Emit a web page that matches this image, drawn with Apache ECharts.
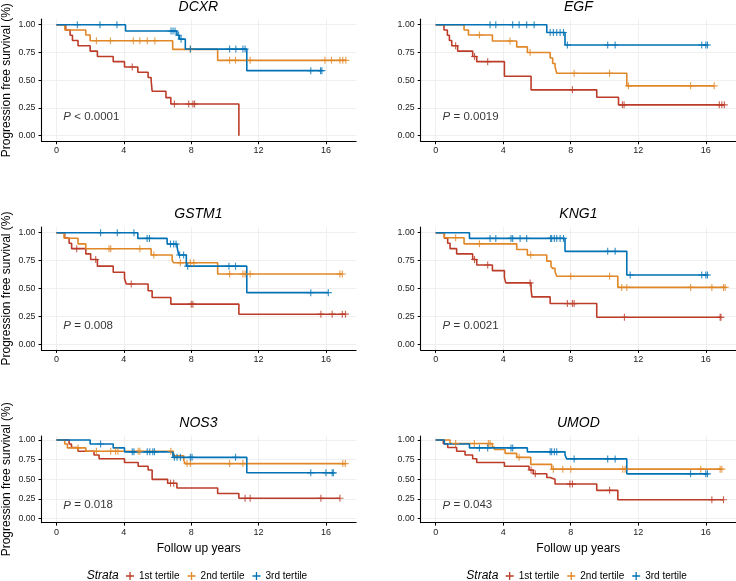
<!DOCTYPE html>
<html>
<head>
<meta charset="utf-8">
<script src="https://cdn.jsdelivr.net/npm/echarts@6/dist/echarts.min.js"></script>
<style>html,body{margin:0;padding:0;background:#fff;}#c{width:736px;height:581px;}</style>
</head>
<body>
<div id="c"></div>
<script>
// ---------------- DATA ----------------
const genes = ['DCXR', 'EGF', 'GSTM1', 'KNG1', 'NOS3', 'UMOD'];
const pTexts = ['< 0.0001', '= 0.0019', '= 0.008', '= 0.0021', '= 0.018', '= 0.043'];
const strata = ['1st tertile', '2nd tertile', '3rd tertile'];
const strataColors = ['#BC3C29', '#E18727', '#0072B5'];
const xTicks = [0, 4, 8, 12, 16];
const yTicks = [0, 0.25, 0.5, 0.75, 1];

// steps: [time, survival after event]; censor: censoring times
const dcxr_1st = [[0,1],[0.55,0.952],[0.81,0.905],[0.95,0.857],[1.28,0.81],[2.0,0.762],[2.43,0.714],[3.37,0.667],[4.04,0.619],[4.83,0.571],[5.44,0.524],[5.62,0.50],[5.68,0.40],[6.5,0.343],[6.79,0.286],[10.83,0]];
const dcxr_1st_cens = [4.5, 7.0, 7.85, 8.1, 8.2];
const dcxr_2nd = [[0,1],[0.5,0.952],[1.74,0.907],[2.0,0.856],[6.9,0.778],[9.57,0.679]];
const dcxr_2nd_cens = [2.37, 3.2, 4.56, 4.95, 5.39, 5.84, 7.95, 10.28, 10.63, 11.5, 15.94, 16.33, 16.83, 17.0, 17.18];
const dcxr_3rd = [[0,1],[4.1,0.943],[7.15,0.905],[7.3,0.87],[7.65,0.78],[11.3,0.586]];
const dcxr_3rd_cens = [1.24, 2.58, 3.59, 6.8, 6.92, 7.04, 7.25, 7.4, 7.95, 10.28, 10.65, 11.07, 11.2, 15.1, 15.68, 15.76];

const egf_1st = [[0,1],[0.49,0.952],[0.69,0.905],[0.81,0.857],[0.95,0.81],[1.3,0.762],[2.19,0.714],[2.43,0.667],[4.07,0.536],[5.65,0.413],[9.54,0.347],[10.83,0.278]];
const egf_1st_cens = [1.18, 2.3, 3.08, 8.1, 11.06, 11.16, 16.8, 16.95, 17.1];
const egf_2nd = [[0,1],[1.68,0.952],[1.94,0.907],[3.36,0.853],[4.8,0.80],[5.43,0.75],[6.78,0.70],[6.93,0.65],[7.07,0.62],[7.17,0.563],[11.32,0.449]];
const egf_2nd_cens = [2.59, 4.4, 5.59, 8.2, 10.3, 11.42, 15.1, 16.5];
const egf_3rd = [[0,1],[6.58,0.93],[7.66,0.817]];
const egf_3rd_cens = [3.22, 3.56, 4.56, 4.94, 5.39, 5.83, 6.78, 6.97, 7.17, 7.37, 7.57, 7.8, 10.19, 10.63, 15.76, 16.0, 16.1];

const gstm1_1st = [[0,1],[0.49,0.952],[0.75,0.905],[0.9,0.857],[1.74,0.81],[2.03,0.76],[2.43,0.70],[3.37,0.645],[4.04,0.59],[4.14,0.54],[5.44,0.48],[5.68,0.42],[6.79,0.36],[10.83,0.27]];
const gstm1_1st_cens = [1.2, 2.33, 4.44, 8.0, 8.1, 15.7, 16.37, 16.97, 17.16];
const gstm1_2nd = [[0,1],[0.45,0.95],[1.28,0.90],[1.74,0.856],[5.62,0.80],[6.87,0.75],[6.96,0.73],[9.57,0.63]];
const gstm1_2nd_cens = [3.12, 3.22, 4.95, 5.78, 7.36, 7.95, 8.15, 10.28, 11.07, 11.2, 11.5, 16.83, 16.97];
const gstm1_3rd = [[0,1],[4.83,0.949],[6.57,0.898],[7.16,0.87],[7.26,0.80],[7.71,0.70],[11.3,0.463]];
const gstm1_3rd_cens = [2.62, 3.61, 4.6, 5.38, 5.52, 6.77, 6.96, 7.1, 7.31, 7.55, 7.79, 10.24, 10.63, 15.1, 16.14];

const kng1_1st = [[0,1],[0.51,0.95],[0.71,0.905],[0.85,0.857],[1.24,0.81],[2.19,0.76],[2.43,0.71],[3.36,0.66],[4.07,0.60],[4.15,0.55],[5.65,0.49],[5.7,0.425],[6.78,0.365],[9.54,0.243]];
const kng1_1st_cens = [2.3, 3.08, 5.59, 7.8, 8.1, 8.2, 11.18, 16.85, 16.9];
const kng1_2nd = [[0,1],[0.51,0.955],[1.68,0.90],[4.8,0.85],[5.43,0.80],[6.58,0.745],[6.83,0.70],[6.93,0.68],[7.07,0.65],[7.17,0.61],[10.79,0.51]];
const kng1_2nd_cens = [1.18, 2.59, 5.63, 8.0, 10.3, 11.02, 11.32, 15.1, 16.36, 17.05, 17.15];
const kng1_3rd = [[0,1],[2.0,0.949],[7.66,0.833],[11.32,0.621]];
const kng1_3rd_cens = [3.22, 3.56, 4.46, 4.56, 5.0, 5.39, 6.81, 6.87, 7.03, 7.17, 7.37, 7.57, 10.19, 10.63, 11.52, 15.76, 16.0, 16.1];

const nos3_1st = [[0,1],[0.75,0.95],[0.89,0.905],[1.28,0.857],[2.23,0.81],[2.53,0.762],[4.04,0.714],[4.85,0.667],[5.44,0.619],[5.68,0.50],[6.6,0.45],[7.15,0.39],[9.57,0.32],[10.83,0.26]];
const nos3_1st_cens = [6.77, 6.96, 11.2, 11.5, 15.7, 16.83];
const nos3_2nd = [[0,1],[0.49,0.95],[0.65,0.90],[1.74,0.857],[6.92,0.80],[7.56,0.74],[7.65,0.70]];
const nos3_2nd_cens = [1.28, 2.37, 3.22, 3.51, 3.65, 4.85, 4.95, 6.79, 7.75, 7.95, 10.28, 11.07, 17.0, 17.15];
const nos3_3rd = [[0,1],[2.0,0.95],[3.37,0.90],[4.04,0.85],[6.92,0.78],[11.3,0.583]];
const nos3_3rd_cens = [2.62, 4.5, 4.6, 5.39, 5.54, 5.72, 5.82, 7.0, 7.16, 7.36, 7.95, 8.05, 10.63, 15.1, 16.0, 16.37, 16.44];

const umod_1st = [[0,1],[0.45,0.952],[0.71,0.905],[1.24,0.857],[1.74,0.81],[2.19,0.762],[2.43,0.714],[4.07,0.667],[5.53,0.619],[5.78,0.571],[6.58,0.524],[6.78,0.50],[7.07,0.44],[9.54,0.36],[10.79,0.24]];
const umod_1st_cens = [5.65, 5.9, 7.95, 8.1, 10.3, 16.36, 17.05];
const umod_2nd = [[0,1],[0.85,0.955],[3.36,0.91],[3.48,0.88],[4.11,0.83],[4.8,0.78],[5.63,0.69],[6.87,0.63]];
const umod_2nd_cens = [1.18, 2.29, 3.12, 3.22, 4.94, 6.97, 7.53, 8.0, 11.08, 11.22, 15.7, 16.85, 16.95];
const umod_3rd = [[0,1],[0.51,0.95],[2.0,0.90],[5.43,0.85],[7.66,0.81],[7.76,0.76],[11.32,0.57]];
const umod_3rd_cens = [2.59, 3.08, 4.46, 4.56, 6.78, 6.87, 7.03, 7.17, 8.2, 10.19, 10.63, 15.1, 16.0, 16.1];

const panelCurves = [
  [[dcxr_1st, dcxr_1st_cens], [dcxr_2nd, dcxr_2nd_cens], [dcxr_3rd, dcxr_3rd_cens]],
  [[egf_1st, egf_1st_cens], [egf_2nd, egf_2nd_cens], [egf_3rd, egf_3rd_cens]],
  [[gstm1_1st, gstm1_1st_cens], [gstm1_2nd, gstm1_2nd_cens], [gstm1_3rd, gstm1_3rd_cens]],
  [[kng1_1st, kng1_1st_cens], [kng1_2nd, kng1_2nd_cens], [kng1_3rd, kng1_3rd_cens]],
  [[nos3_1st, nos3_1st_cens], [nos3_2nd, nos3_2nd_cens], [nos3_3rd, nos3_3rd_cens]],
  [[umod_1st, umod_1st_cens], [umod_2nd, umod_2nd_cens], [umod_3rd, umod_3rd_cens]]
];

// ---------------- LAYOUT ----------------
const FONT = '"Liberation Sans", Arial, Helvetica, sans-serif';
const PLUS = 'path://M0.42,0H0.58V0.42H1V0.58H0.58V1H0.42V0.58H0V0.42H0.42Z';
const colLeft = [40.7, 420.7];
const colW = 315.4;
const rows = [{top: 19.15, h: 122.1}, {top: 227.1, h: 122.8}, {top: 436.1, h: 86.5}];
const titleY = [7.5, 214.3, 422.7];

function survAt(steps, t) {
  let s = steps[0][1];
  for (const p of steps) if (p[0] <= t) s = p[1];
  return s;
}
function curvePoints(steps, cens) {
  const pts = steps.map(p => p.slice());
  const last = Math.max(...cens);
  if (last > pts[pts.length - 1][0]) pts.push([last, pts[pts.length - 1][1]]);
  return pts;
}

const grid = [], xAxis = [], yAxis = [], series = [], graphics = [];
genes.forEach((g, i) => {
  const col = i % 2, row = Math.floor(i / 2);
  grid.push({left: colLeft[col], top: rows[row].top, width: colW, height: rows[row].h, containLabel: false});
  xAxis.push({
    type: 'value', gridIndex: i, min: -0.889, max: 17.79,
    name: row === 2 ? 'Follow up years' : '', nameLocation: 'middle', nameGap: 20,
    nameTextStyle: {fontFamily: FONT, fontSize: 12, color: '#000'},
    axisLine: {show: true, onZero: false, lineStyle: {color: '#000', width: 1.1}},
    axisTick: {show: true, length: 3, lineStyle: {color: '#000', width: 1}, customValues: xTicks},
    axisLabel: {fontFamily: FONT, fontSize: 9, color: '#222', margin: 5, customValues: xTicks, formatter: v => String(v)},
    splitLine: {show: true, lineStyle: {color: '#ebebeb', width: 0.8}}
  });
  yAxis.push({
    type: 'value', gridIndex: i, min: -0.05, max: 1.05,
    name: col === 0 ? 'Progression free survival (%)' : '', nameLocation: 'middle', nameGap: 28.5,
    nameTextStyle: {fontFamily: FONT, fontSize: 12, color: '#000'},
    axisLine: {show: true, onZero: false, lineStyle: {color: '#000', width: 1.1}},
    axisTick: {show: true, length: 3, lineStyle: {color: '#000', width: 1}, customValues: yTicks},
    axisLabel: {fontFamily: FONT, fontSize: 8.8, color: '#222', margin: 6, customValues: yTicks, formatter: v => v.toFixed(2)},
    splitLine: {show: true, lineStyle: {color: '#ebebeb', width: 0.8}}
  });
  panelCurves[i].forEach((c, k) => {
    const [steps, cens] = c;
    series.push({
      type: 'line', name: strata[k], xAxisIndex: i, yAxisIndex: i, step: 'end',
      showSymbol: false, symbol: 'none', color: strataColors[k],
      lineStyle: {width: 1.6, color: strataColors[k]}, z: 3,
      data: curvePoints(steps, cens), animation: false
    });
    series.push({
      type: 'scatter', name: strata[k], xAxisIndex: i, yAxisIndex: i,
      symbol: PLUS, symbolSize: 7, color: strataColors[k],
      itemStyle: {color: strataColors[k]}, z: 4,
      data: cens.map(t => [t, survAt(steps, t)]), animation: false
    });
  });
  series.push({
    type: 'scatter', xAxisIndex: i, yAxisIndex: i, symbolSize: 1,
    itemStyle: {color: 'rgba(0,0,0,0)'}, silent: true, z: 5,
    data: [[0.38, 0.17]],
    label: {
      show: true, position: 'right', distance: 0, fontFamily: FONT, fontSize: 11.5, color: '#000',
      formatter: '{i|P} ' + pTexts[i],
      rich: {i: {fontFamily: FONT, fontSize: 11.5, fontStyle: 'italic', color: '#000'}}
    },
    animation: false
  });
  graphics.push({
    type: 'text', x: colLeft[col] + colW / 2, y: titleY[row],
    style: {text: g, font: 'italic 14px ' + FONT, fill: '#000', align: 'center', verticalAlign: 'middle', textAlign: 'center', textVerticalAlign: 'middle'}
  });
});

[86.7, 466.3].forEach(x => {
  graphics.push({
    type: 'text', x: x, y: 576,
    style: {text: 'Strata', font: 'italic 12px ' + FONT, fill: '#000', align: 'left', verticalAlign: 'middle', textAlign: 'left', textVerticalAlign: 'middle'}
  });
});

const legendData = strata.map(s => ({name: s, icon: PLUS}));
const legends = [126, 505.7].map(l => ({
  left: l, top: 571, orient: 'horizontal', padding: 0,
  itemWidth: 8, itemHeight: 8, itemGap: 8,
  textStyle: {fontFamily: FONT, fontSize: 10, color: '#000'},
  data: legendData, selectedMode: false
}));

const chart = echarts.init(document.getElementById('c'), null, {renderer: 'canvas'});
chart.setOption({
  backgroundColor: '#fff',
  animation: false,
  grid: grid, xAxis: xAxis, yAxis: yAxis, series: series,
  legend: legends,
  graphic: graphics
});
</script>
</body>
</html>
